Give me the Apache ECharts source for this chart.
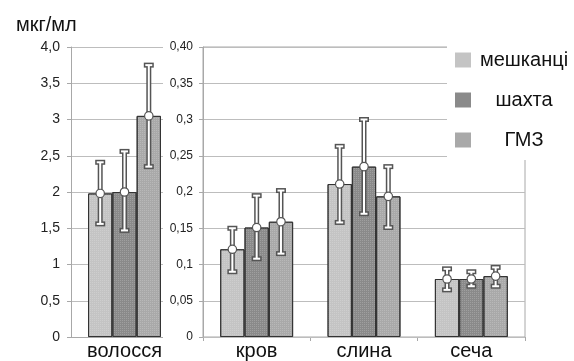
<!DOCTYPE html>
<html>
<head>
<meta charset="utf-8">
<script src="https://cdn.jsdelivr.net/npm/echarts@6/dist/echarts.min.js"></script>
<style>
  html, body { margin: 0; padding: 0; background: #fff; }
  #chart { width: 574px; height: 361px; }
</style>
</head>
<body>
<div id="chart"></div>
<script>
// групи
var groups = ['мешканці', 'шахта', 'ГМЗ'];

// волосся (ліва шкала), по одному значенню на групу
var hairCats = ['волосся'];
var hairMean = [1.98, 2.00, 3.05];
var hairLow  = [1.56, 1.47, 2.35];
var hairHigh = [2.41, 2.56, 3.75];

// кров, слина, сеча (права шкала)
var fluidCats = ['кров', 'слина', 'сеча'];
var residentsMean = [0.121, 0.211, 0.080];
var residentsLow  = [0.090, 0.158, 0.065];
var residentsHigh = [0.150, 0.263, 0.094];
var mineMean = [0.151, 0.235, 0.080];
var mineLow  = [0.108, 0.170, 0.070];
var mineHigh = [0.195, 0.300, 0.090];
var plantMean = [0.159, 0.194, 0.084];
var plantLow  = [0.115, 0.151, 0.070];
var plantHigh = [0.202, 0.235, 0.096];

// підписи осей
var leftTicks  = ['0', '0,5', '1', '1,5', '2', '2,5', '3', '3,5', '4,0'];
var rightTicks = ['0', '0,05', '0,1', '0,15', '0,2', '0,25', '0,3', '0,35', '0,40'];

var colors = ['#c4c4c4', '#8a8a8a', '#a9a9a9'];
var BAR_W = 24.3;
var FONT = "'Liberation Sans', Arial, sans-serif";

var fluidMean = [residentsMean, mineMean, plantMean];
var fluidLow  = [residentsLow, mineLow, plantLow];
var fluidHigh = [residentsHigh, mineHigh, plantHigh];

function errorItem(offset){
  return function(params, api){
    var c = api.value(0);
    var xc = api.coord([c, 0])[0] + offset;
    var yLo = api.coord([c, api.value(1)])[1];
    var yHi = api.coord([c, api.value(2)])[1];
    var yM = api.coord([c, api.value(3)])[1];
    var dark = '#555555', light = '#ffffff';
    return {
      type: 'group',
      children: [
        {type: 'rect', shape: {x: xc - 2.5, y: yHi, width: 5, height: yLo - yHi}, style: {fill: dark}},
        {type: 'rect', shape: {x: xc - 5, y: yHi - 2.5, width: 10, height: 5}, style: {fill: dark}},
        {type: 'rect', shape: {x: xc - 5, y: yLo - 2.5, width: 10, height: 5}, style: {fill: dark}},
        {type: 'rect', shape: {x: xc - 1, y: yHi, width: 2, height: yLo - yHi}, style: {fill: light}},
        {type: 'rect', shape: {x: xc - 3.5, y: yHi - 1, width: 7, height: 2}, style: {fill: light}},
        {type: 'rect', shape: {x: xc - 3.5, y: yLo - 1, width: 7, height: 2}, style: {fill: light}},
        {type: 'circle', shape: {cx: xc, cy: yM, r: 4.2}, style: {fill: light, stroke: dark, lineWidth: 1.2}}
      ]
    };
  };
}

var series = [];
for (var i = 0; i < groups.length; i++) {
  var itemStyle = {
    color: colors[i],
    borderColor: '#333',
    borderWidth: 1,
    decal: {symbol: 'rect', symbolSize: 1, dashArrayX: [1, 1], dashArrayY: [1, 1], color: 'rgba(255,255,255,0.18)'}
  };
  series.push({
    name: groups[i], type: 'bar', xAxisIndex: 0, yAxisIndex: 0,
    barWidth: BAR_W, barGap: '0%', itemStyle: itemStyle,
    data: [hairMean[i]]
  });
  series.push({
    name: groups[i], type: 'bar', xAxisIndex: 1, yAxisIndex: 1,
    barWidth: BAR_W, barGap: '0%', itemStyle: itemStyle,
    data: fluidMean[i]
  });
}
for (var i = 0; i < groups.length; i++) {
  var off = (i - 1) * BAR_W;
  series.push({
    type: 'custom', xAxisIndex: 0, yAxisIndex: 0, z: 5,
    renderItem: errorItem(off),
    data: [[0, hairLow[i], hairHigh[i], hairMean[i]]]
  });
  var fd = [];
  for (var j = 0; j < fluidCats.length; j++) {
    fd.push([j, fluidLow[i][j], fluidHigh[i][j], fluidMean[i][j]]);
  }
  series.push({
    type: 'custom', xAxisIndex: 1, yAxisIndex: 1, z: 5,
    renderItem: errorItem(off),
    data: fd
  });
}

var axisGrey = '#a8a8a8';
var gridGrey = '#bdbdbd';

var option = {
  backgroundColor: '#fff',
  animation: false,
  textStyle: {fontFamily: FONT},
  title: {
    text: 'мкг/мл', left: 11, top: 10,
    textStyle: {fontSize: 20, fontWeight: 'normal', color: '#111', fontFamily: FONT}
  },
  legend: {
    data: groups, orient: 'vertical', left: 447, top: 42,
    padding: [8, 0, 10, 8], itemGap: 20, itemWidth: 16, itemHeight: 15,
    backgroundColor: '#fff', icon: 'rect',
    itemStyle: {borderWidth: 0, decal: {symbol: 'none'}},
    formatter: function(n){ return '{t|' + n + '}'; },
    textStyle: {
      fontFamily: FONT, fontSize: 20, color: '#111',
      rich: {t: {width: 96, align: 'center', fontSize: 20, lineHeight: 22, fontFamily: FONT, color: '#111'}}
    }
  },
  grid: [
    {left: 71, top: 47, width: 107, height: 290},
    {left: 203, top: 47, width: 322, height: 290, show: true, borderColor: axisGrey, borderWidth: 1}
  ],
  xAxis: [
    {
      type: 'category', gridIndex: 0, data: hairCats,
      axisLine: {lineStyle: {color: axisGrey}},
      axisTick: {show: false},
      axisLabel: {fontSize: 20, color: '#111', margin: 4, fontFamily: FONT}
    },
    {
      type: 'category', gridIndex: 1, data: fluidCats,
      axisLine: {lineStyle: {color: axisGrey}},
      axisTick: {show: true, length: 4, lineStyle: {color: axisGrey}},
      axisLabel: {fontSize: 20, color: '#111', margin: 4, fontFamily: FONT}
    }
  ],
  yAxis: [
    {
      type: 'value', gridIndex: 0, min: 0, max: 4, interval: 0.5, z: 0,
      axisLine: {show: true, lineStyle: {color: axisGrey}},
      axisTick: {show: true, length: 4, lineStyle: {color: axisGrey}},
      splitLine: {lineStyle: {color: gridGrey}},
      axisLabel: {
        fontSize: 14, color: '#222', margin: 11, fontFamily: FONT,
        formatter: function(v, idx){ return leftTicks[idx]; }
      }
    },
    {
      type: 'value', gridIndex: 1, min: 0, max: 0.4, interval: 0.05, z: 1,
      axisLine: {show: true, lineStyle: {color: axisGrey}},
      axisTick: {show: true, length: 4, lineStyle: {color: axisGrey}},
      splitLine: {lineStyle: {color: gridGrey}},
      axisLabel: {
        fontSize: 12, color: '#222', margin: 10, fontFamily: FONT,
        width: 30, align: 'right', backgroundColor: '#fff',
        formatter: function(v, idx){ return rightTicks[idx]; }
      }
    }
  ],
  series: series
};

var chart = echarts.init(document.getElementById('chart'));
chart.setOption(option);
</script>
</body>
</html>
